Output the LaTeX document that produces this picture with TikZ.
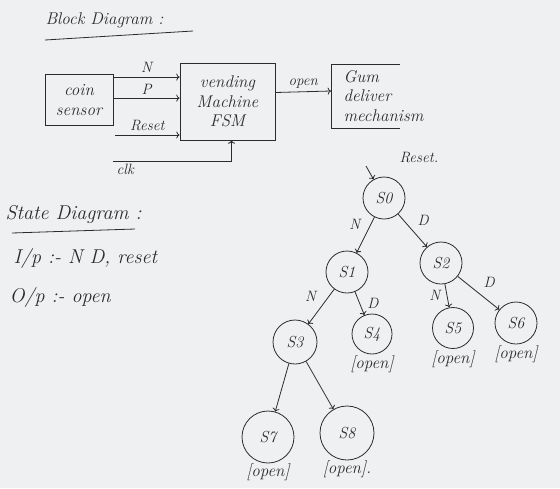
\documentclass[tikz,border=0pt]{standalone}
\usetikzlibrary{positioning,arrows.meta}
\definecolor{paper}{RGB}{238,240,242}
\definecolor{ink}{RGB}{45,42,44}
\tikzset{
  hand/.style={font=\fontsize{17}{19.5}\selectfont\itshape, text=ink},
  big/.style={font=\fontsize{20}{22}\selectfont\itshape, text=ink},
  small/.style={font=\fontsize{15}{17}\selectfont\itshape, text=ink},
  outlbl/.style={font=\fontsize{17}{19}\selectfont\itshape, text=ink},
  blk/.style={draw=ink, thick, align=center, hand},
  st/.style={draw=ink, thick, circle, inner sep=0pt, minimum size=42pt,
    font=\fontsize{16}{18}\selectfont\itshape, text=ink},
}
\begin{document}
\begin{tikzpicture}[x=1pt,y=-1pt]
    % Background
    \fill[paper] (0,0) rectangle (560,488);
    \useasboundingbox (0,0) rectangle (560,488);
    % Block diagram
    \node[hand, anchor=west] (title1) at (42,20) {Block Diagram :};
    \draw[ink, thick] (45,40) -- (193,31);
    \node[blk, minimum width=68, minimum height=51] (cs) at (79,100) {coin\\sensor};
    \node[blk, minimum width=95, minimum height=77] (fsm) at (227.5,101.5) {vending\\Machine\\FSM};
    \node[hand, anchor=west, align=left] (gum) at (340,96) {Gum\\deliver\\mechanism};
    \coordinate (gumtop) at (400,64);
    \coordinate (gumbot) at (400,128);
    \coordinate (gumin) at (331,91);
    \draw[ink, thick] (gumtop) -| (gumbot -| gumin) -- (gumbot);
    \coordinate (rst) at (115,135);
    \coordinate (clk) at (113,161);
    % Linee
    \draw[->, ink, thick] ([yshift=-3]cs.north east) -- ([yshift=-3]cs.north east -| fsm.west)
        node[small, midway, above=1pt] {N};
    \draw[->, ink, thick] ([yshift=-24]cs.north east) -- ([yshift=-24]cs.north east -| fsm.west)
        node[small, midway, above=0pt] {P};
    \draw[->, ink, thick] (rst) -- (rst -| fsm.west)
        node[small, midway, above=0pt] {Reset};
    \draw[->, ink, thick] (clk) -| ([xshift=4]fsm.south);
    \node[small, anchor=north west] (clklbl) at (clk) {clk};
    \draw[->, ink, thick] ([yshift=9]fsm.east) -- (gumin)
        node[small, midway, above=0pt] {open};
    % State diagram
    \node[big, anchor=west] (title2) at (2,214) {State Diagram :};
    \draw[ink, thick] (12,233) -- (135,229);
    \node[big, anchor=west] (ip) at (10,258) {I/p :- N D, reset};
    \node[big, anchor=west] (op) at (6,297) {O/p :- open};
    % States
    \node[st, minimum size=42] (s0) at (384,198) {S0};
    \node[st, minimum size=42] (s1) at (347,272) {S1};
    \node[st, minimum size=42] (s2) at (441,263) {S2};
    \node[st, minimum size=44] (s3) at (295,342) {S3};
    \node[st, minimum size=40] (s4) at (372,334) {S4};
    \node[st, minimum size=41] (s5) at (453,328) {S5};
    \node[st, minimum size=42] (s6) at (516,323) {S6};
    \node[st, minimum size=52] (s7) at (268,437) {S7};
    \node[st, minimum size=54] (s8) at (347,433) {S8};
    % Transitions
    \coordinate (s0in) at (366,166);
    \draw[->, ink, thick] (s0in) -- (s0);
    \node[small, anchor=west] (rstlbl) at (396,158) {Reset.};
    \draw[->, ink, thick] (s0) -- (s1) node[small, midway, above left=2pt] {N};
    \draw[->, ink, thick] (s0) -- (s2) node[small, midway, above right=2pt] {D};
    \draw[->, ink, thick] (s1) -- (s3) node[small, midway, above left=2pt] {N};
    \draw[->, ink, thick] (s1) -- (s4) node[small, midway, right=4pt] {D};
    \draw[->, ink, thick] (s2) -- (s5) node[small, midway, left=3pt] {N};
    \draw[->, ink, thick] (s2) -- (s6) node[small, midway, above right=2pt] {D};
    \draw[->, ink, thick] (s3) -- (s7);
    \draw[->, ink, thick] (s3) -- (s8);
    % Outputs
    \node[outlbl, below=-2pt of s4] (o4) {[open]};
    \node[outlbl, below=-2pt of s5] (o5) {[open]};
    \node[outlbl, below=-2pt of s6] (o6) {[open]};
    \node[outlbl, below=-3pt of s7] (o7) {[open]};
    \node[outlbl, below=-3pt of s8] (o8) {[open].};
\end{tikzpicture}
\end{document}
